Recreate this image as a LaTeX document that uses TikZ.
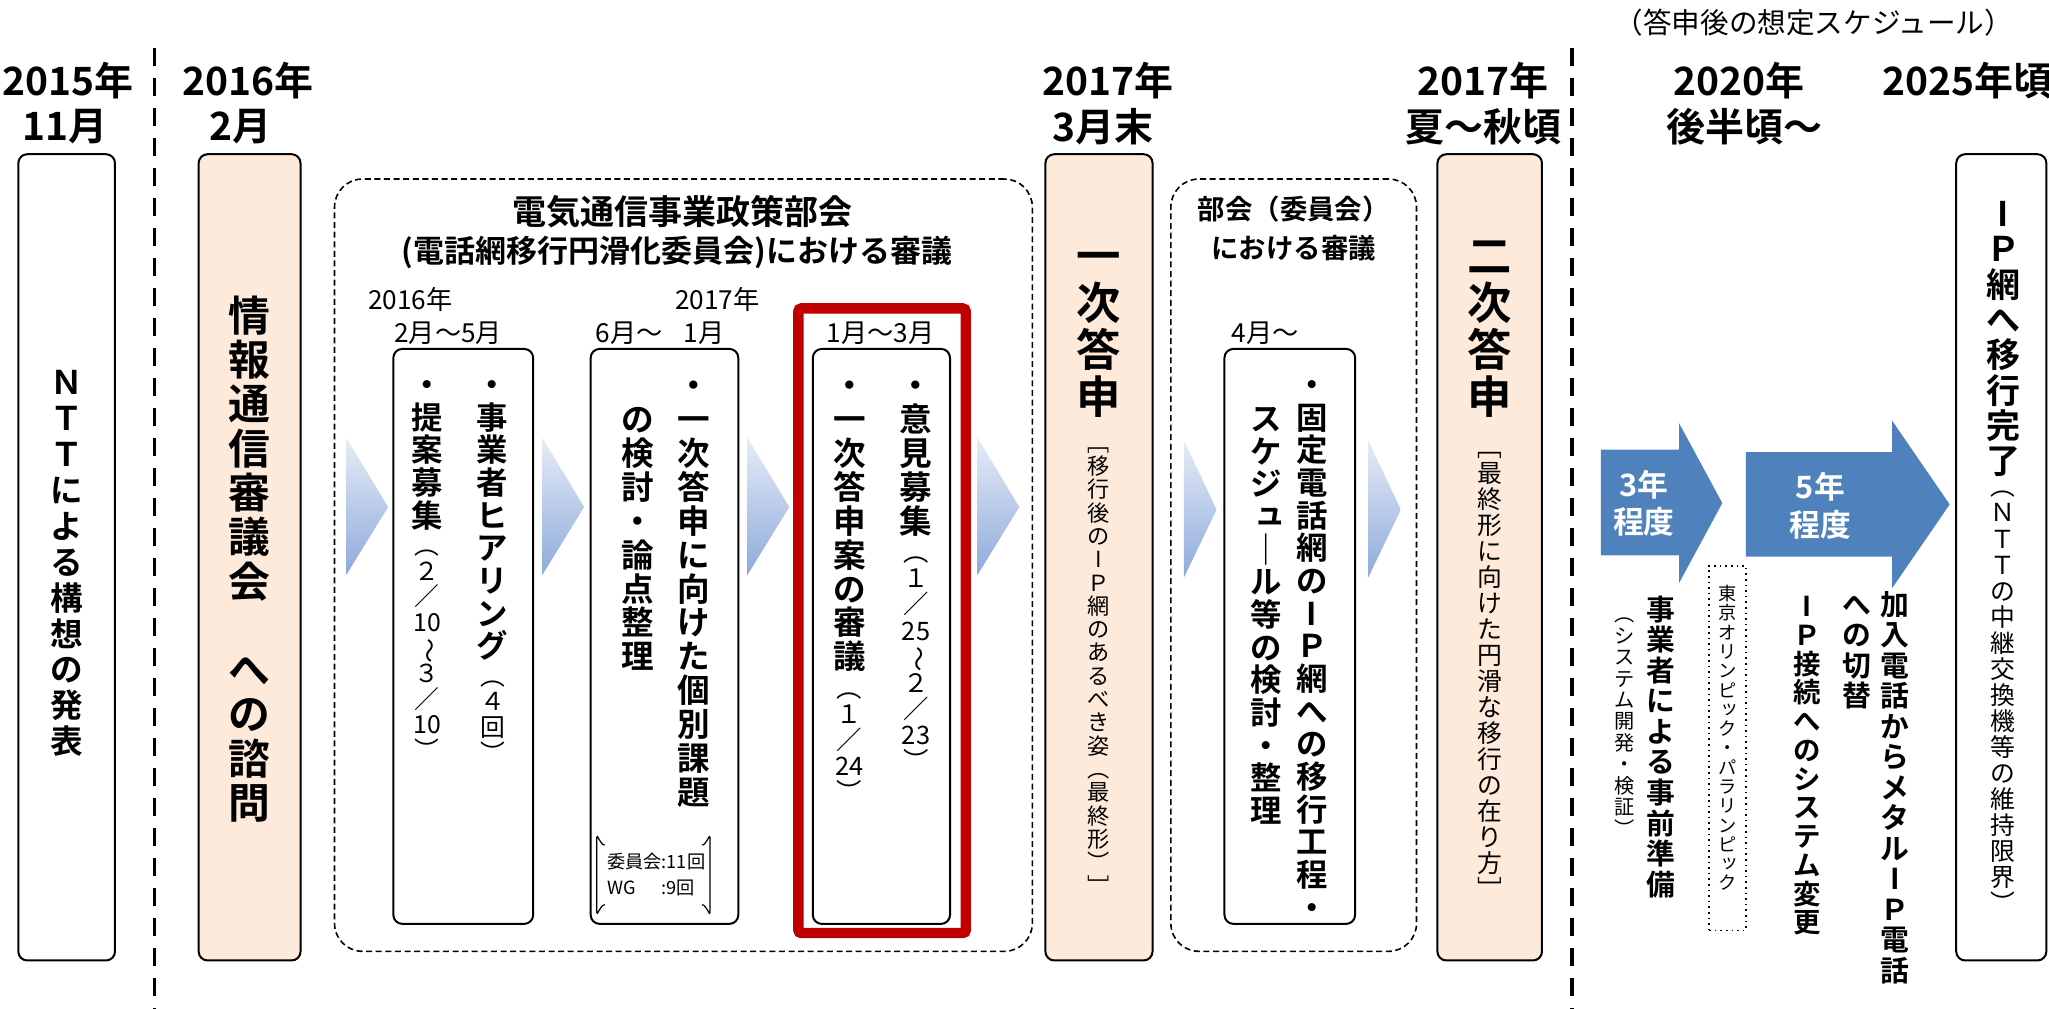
\documentclass[tikz,border=0pt]{standalone}
\usepackage{fontspec}
\usepackage{graphicx}
\setmainfont{Noto Sans CJK JP}[BoldFont={Noto Sans CJK JP Bold}, Numbers=Proportional]
\usetikzlibrary{fit}
\definecolor{peach}{HTML}{FDEADA}
\definecolor{redbox}{HTML}{C00000}
\definecolor{arrowblue}{HTML}{4F81BD}
\definecolor{chevtop}{HTML}{E6ECF7}
\definecolor{chevbot}{HTML}{8EAADB}
\makeatletter
\newcommand\vt[2][0.05]{\vbox{\offinterlineskip\@tfor\vt@c:=#2\do{\setbox\z@\hbox to 1em{\hss\vt@c\hss}\ht\z@=.88em \dp\z@=.12em \box\z@\kern#1em}}}
\makeatother
\newcommand\rv[1]{\rotatebox[origin=c]{-90}{#1}}
\newcommand\sk[1]{\raisebox{.12em}{\kern.24em#1}}
\newcommand\fsz[1]{\fontsize{#1pt}{#1pt}\selectfont}
\begin{document}
\begin{tikzpicture}[x=0.6534pt,y=-0.6534pt,
  box/.style={draw, line width=1pt, rounded corners=4.5pt, inner sep=0pt},
  obox/.style={box, fill=peach},
  grp/.style={draw, line width=0.8pt, dash pattern=on 3pt off 1.8pt, rounded corners=14pt, inner sep=0pt},
  vtn/.style={inner sep=0pt, anchor=north},
  yearlbl/.style={font=\fsz{19.5}\bfseries, inner sep=0pt},
  mlbl/.style={font=\fsz{13.1}, inner sep=0pt},
  chev/.style={top color=chevtop, bottom color=chevbot},
  sep/.style={line width=1.6pt, dash pattern=on 9pt off 6pt},
  bluearr/.style={fill=arrowblue, draw=none},
  arrtxt/.style={font=\fontsize{15.4pt}{18.8pt}\selectfont\bfseries, text=white, align=center, inner sep=0pt}]
\useasboundingbox (0,0) rectangle (1568,772);
\clip (0,0) rectangle (1568,772);
% header
\node[font=\fsz{14.3}, inner sep=0pt] (hdr) at (1388,17) {（答申後の想定スケジュール）};
% years
\node[yearlbl] (y1a) at (52,62) {2015年};
\node[yearlbl] (y1b) at (50,97) {11月};
\node[yearlbl] (y2a) at (190,62) {2016年};
\node[yearlbl] (y2b) at (184,97) {2月};
\node[yearlbl] (y3a) at (848,62) {2017年};
\node[yearlbl] (y3b) at (844,97) {3月末};
\node[yearlbl] (y4a) at (1135,62) {2017年};
\node[yearlbl] (y4b) at (1135,97) {夏～秋頃};
\node[yearlbl] (y5a) at (1331,62) {2020年};
\node[yearlbl] (y5b) at (1335,97) {後半頃～};
\node[yearlbl, anchor=west] (y6a) at (1440,62) {2025年頃};
% separators
\coordinate (s1t) at (118,37); \coordinate (s1b) at (118,772);
\coordinate (s2t) at (1203,37); \coordinate (s2b) at (1203,772);
\draw[sep] (s1t) -- (s1b);
\draw[sep] (s2t) -- (s2b);
% NTT
\node[box, fit={(14,118) (88,735)}] (ntt) {};
\node[vtn, font=\fsz{16.3}\bfseries] (ntttxt) at (51,280) {\vt[.1]{ＮＴＴによる構想の発表}};
% shimon
\node[obox, fit={(152,118) (230,735)}] (shimon) {};
\node[vtn, font=\fsz{20.9}\bfseries] (shimontxt) at (191,225) {\vt[.06]{情報通信審議会{\ }への諮問}};
% group 1
\node[grp, fit={(256,137) (790,728)}] (grp1) {};
\node[font=\fsz{17}\bfseries, inner sep=0pt] (t1) at (522,162) {電気通信事業政策部会};
\node[font=\fsz{15.5}\bfseries, inner sep=0pt] (t2) at (518,193) {(電話網移行円滑化委員会)における審議};
\node[mlbl] (m1a) at (314,229) {2016年};
\node[mlbl] (m1b) at (343,255) {2月～5月};
\node[mlbl] (m2a) at (549,229) {2017年};
\node[mlbl] (m2b) at (505,255) {6月～\hspace{0.8em}1月};
\node[mlbl] (m3) at (674,255) {1月～3月};
% box A
\node[box, fit={(301,267) (408,707)}] (boxA) {};
\node[vtn, font=\fsz{15.7}\bfseries] (a1) at (377,282) {\vt[.04]{・事業者ヒアリング}};
\node[vtn, font=\fsz{12.4}] (a1s) at (a1.south) {\vt[.03]{︵４回︶}};
\node[vtn, font=\fsz{15.7}\bfseries] (a2) at (327,282) {\vt[.04]{・提案募集}};
\node[vtn, font=\fsz{12.4}] (a2s) at (a2.south) {\vt[.03]{︵２／{10}{\rv{～}}３／{10}︶}};
% box B
\node[box, fit={(452,267) (565,707)}] (boxB) {};
\node[vtn, font=\fsz{16.3}\bfseries] (b1) at (531,282) {\vt[.04]{・一次答申に向けた個別課題}};
\node[vtn, font=\fsz{16.3}\bfseries] (b2) at (488,308) {\vt[.04]{の検討・論点整理}};
\node[fit={(457,647) (543,692)}, inner sep=0pt] (wg) {};
\draw[line width=0.6pt] ([xshift=4]wg.north west) to[out=180,in=90] ([yshift=4]wg.north west) -- ([yshift=-4]wg.south west) to[out=-90,in=180] ([xshift=4]wg.south west);
\draw[line width=0.6pt] ([xshift=-4]wg.north east) to[out=0,in=90] ([yshift=4]wg.north east) -- ([yshift=-4]wg.south east) to[out=-90,in=0] ([xshift=-4]wg.south east);
\node[font=\fontsize{9.1pt}{13pt}\selectfont, align=left, inner sep=0pt, anchor=west] (wgtxt) at ([xshift=5]wg.west) {委員会:11回\\\makebox[3em][l]{WG}:9回};
% red box C
\node[draw=redbox, line width=5.2pt, rounded corners=1.5pt, fit={(611,236) (739,714)}, inner sep=0pt] (red) {};
\node[box, fit={(622,267) (727,707)}] (boxC) {};
\node[vtn, font=\fsz{16.3}\bfseries] (c1) at (701,282) {\vt[.04]{・意見募集}};
\node[vtn, font=\fsz{12.7}] (c1s) at (c1.south) {\vt[.03]{︵１／{25}{\rv{～}}２／{23}︶}};
\node[vtn, font=\fsz{16.3}\bfseries] (c2) at (650,282) {\vt[.04]{・一次答申案の審議}};
\node[vtn, font=\fsz{12.7}] (c2s) at (c2.south) {\vt[.03]{︵１／{24}︶}};
% chevrons
\shade[chev] (265,335) -- (297,388) -- (265,440) -- cycle;
\shade[chev] (415,335) -- (447,388) -- (415,440) -- cycle;
\shade[chev] (572,335) -- (604,388) -- (572,440) -- cycle;
\shade[chev] (748,335) -- (780,388) -- (748,440) -- cycle;
\shade[chev] (906,337) -- (931,390) -- (906,442) -- cycle;
\shade[chev] (1047,337) -- (1072,390) -- (1047,442) -- cycle;
% answer 1
\node[obox, fit={(800,118) (882,735)}] (ans1) {};
\node[vtn, font=\fsz{22.2}\bfseries] (ans1t) at (841,178) {\vt[.06]{一次答申}};
\node[vtn, font=\fsz{11.1}] (ans1s) at (841,330) {\vt[.05]{﹇移行後のIＰ網のあるべき姿︵最終形︶﹈}};
% group 2
\node[grp, fit={(896,137) (1084,728)}] (grp2) {};
\node[font=\fsz{13.7}\bfseries, inner sep=0pt] (t3) at (990,160) {部会（委員会）};
\node[font=\fsz{13.7}\bfseries, inner sep=0pt] (t4) at (990,190) {における審議};
\node[mlbl] (m4) at (968,255) {4月～};
\node[box, fit={(937,267) (1037,707)}] (boxD) {};
\node[vtn, font=\fsz{15.7}\bfseries] (d1) at (1004,282) {\vt[.04]{・固定電話網のIＰ網への移行工程・}};
\node[vtn, font=\fsz{15.7}\bfseries] (d2) at (969,308) {\vt[.04]{スケジ{\sk{ュ}}｜ル等の検討・整理}};
% answer 2
\node[obox, fit={(1100,118) (1180,735)}] (ans2) {};
\node[vtn, font=\fsz{22.2}\bfseries] (ans2t) at (1140,178) {\vt[.06]{二次答申}};
\node[vtn, font=\fsz{12.4}] (ans2s) at (1140,332) {\vt[.05]{﹇最終形に向けた円滑な移行の在り方﹈}};
% blue arrows
\fill[bluearr] (1225,344) -- (1285,344) -- (1285,324) -- (1318,385) -- (1285,446) -- (1285,425) -- (1225,425) -- cycle;
\node[arrtxt] (ar1) at (1258,385) {3年\\程度};
\fill[bluearr] (1336,346) -- (1448,346) -- (1448,322) -- (1492,386) -- (1448,450) -- (1448,426) -- (1336,426) -- cycle;
\node[arrtxt] (ar2) at (1393,387) {5年\\程度};
% after arrows
\node[vtn, font=\fsz{14.4}\bfseries] (prep) at (1271,455) {\vt[.06]{事業者による事前準備}};
\node[vtn, font=\fsz{10.1}] (prepsub) at (1243,462) {\vt[.06]{︵システム開発・検証︶}};
\node[draw, dotted, line width=0.8pt, fit={(1308,433) (1336,712)}, inner sep=0pt] (olybox) {};
\node[vtn, font=\fsz{9.1}] (oly) at (1322,447) {\vt[.06]{東京オリンピ{\sk{ッ}}ク・パラリンピ{\sk{ッ}}ク}};
\node[vtn, font=\fsz{13.7}\bfseries] (ipsys) at (1383,453) {\vt[.05]{IＰ接続へのシステム変更}};
\node[vtn, font=\fsz{14.4}\bfseries] (metal) at (1450,451) {\vt[.06]{加入電話からメタルIＰ電話}};
\node[vtn, font=\fsz{14.4}\bfseries] (kirikae) at (1421,451) {\vt[.06]{への切替}};
% final
\node[box, fit={(1497,118) (1566,735)}] (done) {};
\node[vtn, font=\fsz{17}\bfseries] (donet) at (1533,150) {\vt[.04]{IＰ網へ移行完了}};
\node[vtn, font=\fsz{12.4}] (dones) at ([yshift=3]donet.south) {\vt[.05]{︵ＮＴＴの中継交換機等の維持限界︶}};
\end{tikzpicture}
\end{document}
